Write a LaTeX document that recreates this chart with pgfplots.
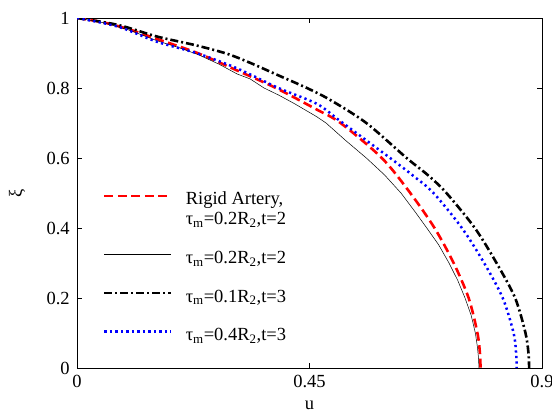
\documentclass[border=0pt]{standalone}
\usepackage{fontspec}
\setmainfont{Liberation Serif}
\usepackage{pgfplots}
\pgfplotsset{compat=1.18}
\pgfplotsset{firstlegend/.style={legend image code/.code={\draw[##1] (0pt,14pt) -- (67pt,14pt);}}}
\begin{document}
\fontsize{18.5}{20}\selectfont
\begin{tikzpicture}
\begin{axis}[name=ax, scale only axis, width=465pt, height=350pt,
  xmin=0, xmax=0.9, ymin=0, ymax=1,
  xtick={0,0.45,0.9}, ytick={0,0.2,0.4,0.6,0.8,1},
  tick align=inside, major tick length=5pt,
  tick style={black, line width=0.5pt},
  axis line style={line width=0.7pt},
  every tick label/.append style={font=\fontsize{18.5}{20}\selectfont},
  /pgf/number format/assume math mode=true,
  xticklabel style={/pgf/number format/fixed, /pgf/number format/precision=2, yshift=-1pt},
  yticklabel style={/pgf/number format/fixed, xshift=-1pt},
  xlabel={u}, ylabel={ξ},
  xlabel style={at={(axis description cs:0.5,-0.106)}, anchor=center},
  ylabel style={at={(axis description cs:-0.129,0.5)}, anchor=center},
  legend style={draw=none, fill=none, inner sep=0pt, at={(axis cs:0.0503,0.503)}, anchor=north west,
    cells={anchor=west, align=left}, row sep=23.5pt, nodes={inner sep=0pt},
    font=\fontsize{18.5}{20}\selectfont,
    /tikz/every odd column/.append style={column sep=13pt}},
  legend image code/.code={\draw[#1] (0pt,4.5pt) -- (67pt,4.5pt);},
  line join=round,
]
\addplot[red, line width=2.6pt, dash pattern=on 9pt off 4.5pt, smooth, tension=0.5, firstlegend] coordinates {
(0.000,1.000) (0.050,0.988) (0.100,0.968) (0.155,0.940) (0.233,0.900) (0.310,0.850)
(0.385,0.800) (0.462,0.740) (0.510,0.700) (0.590,0.600) (0.645,0.500) (0.692,0.400)
(0.729,0.300) (0.758,0.200) (0.775,0.100) (0.780,0.040) (0.781,0.000)};
\addlegendentry{Rigid Artery,\\τ\textsubscript{m}=0.2R\textsubscript{2},t=2}
\addplot[black, line width=0.5pt] coordinates {
(0.000,1.000) (0.050,0.987) (0.100,0.966) (0.155,0.935) (0.200,0.914) (0.235,0.895) (0.275,0.868) (0.310,0.840)
(0.335,0.826) (0.362,0.800) (0.390,0.780) (0.420,0.756) (0.464,0.718) (0.482,0.700) (0.520,0.650) (0.560,0.600)
(0.595,0.552) (0.627,0.500) (0.655,0.445) (0.677,0.400) (0.700,0.352) (0.720,0.300) (0.737,0.250) (0.751,0.200)
(0.763,0.150) (0.771,0.100) (0.775,0.060) (0.777,0.030) (0.778,0.000)};
\addlegendentry{τ\textsubscript{m}=0.2R\textsubscript{2},t=2}
\addplot[black, line width=2.6pt, dash pattern=on 8pt off 3pt on 2pt off 3pt, smooth, tension=0.5] coordinates {
(0.000,1.000) (0.080,0.980) (0.155,0.947) (0.230,0.922) (0.290,0.898) (0.335,0.872)
(0.390,0.836) (0.445,0.800) (0.490,0.766) (0.560,0.700) (0.638,0.600) (0.680,0.550) (0.715,0.500)
(0.770,0.400) (0.812,0.300) (0.848,0.200) (0.868,0.100) (0.874,0.040) (0.875,0.000)};
\addlegendentry{τ\textsubscript{m}=0.1R\textsubscript{2},t=3}
\addplot[blue, line width=2.5pt, dash pattern=on 2.2pt off 3.3pt, smooth, tension=0.5] coordinates {
(0.000,1.000) (0.080,0.975) (0.155,0.932) (0.235,0.898) (0.310,0.856) (0.390,0.800)
(0.464,0.755) (0.510,0.705) (0.606,0.600) (0.650,0.550) (0.690,0.500) (0.745,0.400) (0.788,0.300)
(0.824,0.200) (0.845,0.100) (0.850,0.040) (0.851,0.000)};
\addlegendentry{τ\textsubscript{m}=0.4R\textsubscript{2},t=3}
\end{axis}
\pgfresetboundingbox
\path[use as bounding box] ([xshift=-77pt,yshift=-48pt]ax.south west) rectangle ([xshift=10pt,yshift=18pt]ax.north east);
\end{tikzpicture}
\end{document}
